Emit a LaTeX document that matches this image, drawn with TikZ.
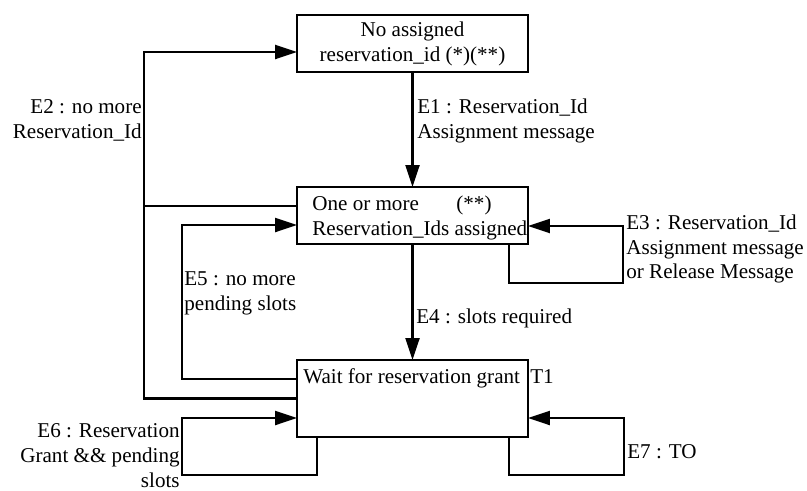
\documentclass[tikz,border=0pt]{standalone}
\usepackage{fontspec}
\setmainfont{Liberation Serif}
\usetikzlibrary{positioning,calc,arrows.meta}

\begin{document}
\begin{tikzpicture}[x=0.02cm, y=-0.02cm,
  txt/.style={inner sep=0pt, font=\fontsize{12}{14.2}\selectfont},
  state/.style={txt, draw, line width=1.3pt, minimum width=4.62cm, outer sep=0pt, align=center},
  wire/.style={line width=1.3pt},
  flow/.style={wire, -{Triangle[length=0.44cm, width=0.28cm]}}]
  \useasboundingbox (0,0) rectangle (807,490);

  % States
  \node[state, minimum height=1.14cm] (A) at (412.5,43.5) {No assigned\\reservation\_id (*)(**)};
  \node[state, minimum height=1.14cm] (B) at (412.5,215.5) {};
  \node[txt, anchor=west, align=left] (Btext) at (312,217.5) {One or more\hspace{0.75cm}(**)\\Reservation\_Ids assigned};
  \node[state, minimum height=1.54cm] (C) at (412.5,398.5) {};
  \node[txt, anchor=base west] (Ctext) at (303,383) {Wait for reservation grant};
  \node[txt, anchor=base west] (T1) at (530,383) {T1};

  % Bend points
  \coordinate (e2x) at (144,52);
  \coordinate (e3a) at (623,283);
  \coordinate (e5x) at (182,225);
  \coordinate (e6a) at (182,475);
  \coordinate (e7a) at (624,475);

  % Transitions
  \draw[flow] (A.south) -- (B.north);
  \draw[flow] (B.south) -- (C.north);
  \draw[flow] (C.west) -| (e2x) -- (e2x -| A.west);
  \draw[wire] (B.west |- 0,206) -- (e2x |- 0,206);
  \draw[flow] (B.south -| 509,0) |- (e3a) |- (B.east |- 0,226);
  \draw[flow] (C.west |- 0,379) -| (e5x) -- (e5x -| B.west);
  \draw[flow] (C.south -| 317,0) |- (e6a) |- (C.west |- 0,418);
  \draw[flow] (C.south -| 509,0) |- (e7a) |- (C.east |- 0,418);

  % Labels
  \node[txt, anchor=west, align=left] (E1) at (417,121) {E1 : Reservation\_Id\\Assignment message};
  \node[txt, anchor=east, align=right] (E2) at (142,120) {E2 : no more\\Reservation\_Id};
  \node[txt, anchor=west, align=left] (E3) at (626,249) {E3 : Reservation\_Id\\Assignment message\\or Release Message};
  \node[txt, anchor=base west] (E4) at (416,323) {E4 : slots required};
  \node[txt, anchor=west, align=left] (E5) at (184,293) {E5 : no more\\pending slots};
  \node[txt, anchor=east, align=right] (E6) at (180,456) {E6 : Reservation\\Grant \&\& pending\\slots};
  \node[txt, anchor=base west] (E7) at (627,458) {E7 : TO};
\end{tikzpicture}
\end{document}
